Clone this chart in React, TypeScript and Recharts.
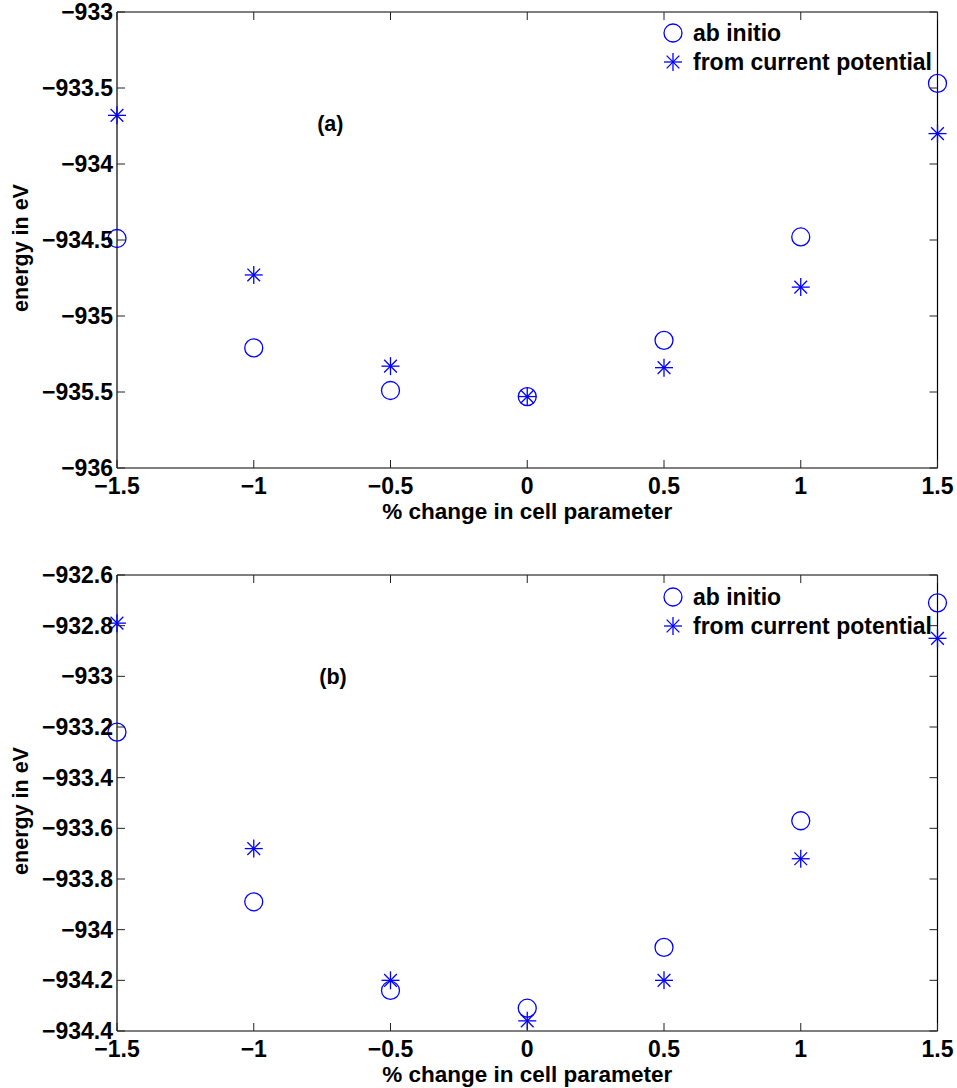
import React from 'react';
import { ScatterChart, Scatter, XAxis, YAxis, ReferenceDot, Legend } from 'recharts';

// ---- data ----
const pct = [-1.5, -1, -0.5, 0, 0.5, 1, 1.5];
const xTicks = [-1.5, -1, -0.5, 0, 0.5, 1, 1.5];

const abInitioA = [-934.49, -935.21, -935.49, -935.53, -935.16, -934.48, -933.47];
const potentialA = [-933.68, -934.73, -935.33, -935.53, -935.34, -934.81, -933.8];
const yTicksA = [-936, -935.5, -935, -934.5, -934, -933.5, -933];

const abInitioB = [-933.22, -933.89, -934.24, -934.31, -934.07, -933.57, -932.71];
const potentialB = [-932.79, -933.68, -934.2, -934.36, -934.2, -933.72, -932.85];
const yTicksB = [-934.4, -934.2, -934, -933.8, -933.6, -933.4, -933.2, -933, -932.8, -932.6];

const seriesNames = ['ab initio', 'from current potential'];
const xTitle = '% change in cell parameter';
const yTitle = 'energy in eV';

// ---- style ----
const BLUE = '#0000ff';
const FONT = '"Liberation Sans", Arial, Helvetica, sans-serif';
const FS = 22.5;
const TICK_FS = 23;
const TICK_LEN = 8;
const X_MARGIN = 10;
const Y_MARGIN = 4;

const fmt = (v: number) => (v < 0 ? '\u2212' + String(Math.abs(v)) : String(v));

const CircleMark = ({ cx, cy }: any) => (
  <circle cx={cx} cy={cy} r={9} fill="none" stroke={BLUE} strokeWidth={1.3} />
);

const StarMark = ({ cx, cy }: any) => {
  const r = 9;
  const d = r * 0.707;
  return (
    <g stroke={BLUE} strokeWidth={1.3}>
      <line x1={cx - r} y1={cy} x2={cx + r} y2={cy} />
      <line x1={cx} y1={cy - r} x2={cx} y2={cy + r} />
      <line x1={cx - d} y1={cy - d} x2={cx + d} y2={cy + d} />
      <line x1={cx - d} y1={cy + d} x2={cx + d} y2={cy - d} />
    </g>
  );
};

const NoMark = () => <g />;

const BottomTick = (p: any) => {
  const { x, y, payload } = p;
  const axisY = y - X_MARGIN;
  return (
    <g>
      <line x1={x} x2={x} y1={axisY} y2={axisY - TICK_LEN} stroke="#222" strokeWidth={1} />
      <text x={x} y={y} dy="0.71em" textAnchor="middle" fontFamily={FONT} fontWeight="bold" fontSize={TICK_FS} fill="#000">
        {fmt(payload.value)}
      </text>
    </g>
  );
};

const LeftTick = (p: any) => {
  const { x, y, payload } = p;
  const axisX = x + Y_MARGIN;
  return (
    <g>
      <line x1={axisX} x2={axisX + TICK_LEN} y1={y} y2={y} stroke="#222" strokeWidth={1} />
      <text x={x} y={y} dy="0.355em" textAnchor="end" fontFamily={FONT} fontWeight="bold" fontSize={TICK_FS} fill="#000">
        {fmt(payload.value)}
      </text>
    </g>
  );
};

const TopTick = (p: any) => {
  const { x, y } = p;
  return <line x1={x} x2={x} y1={y} y2={y + TICK_LEN} stroke="#222" strokeWidth={1} />;
};

const RightTick = (p: any) => {
  const { x, y } = p;
  return <line x1={x} x2={x - TICK_LEN} y1={y} y2={y} stroke="#222" strokeWidth={1} />;
};

const XTitle = (props: any) => {
  const vb = props.viewBox;
  const cx = vb.x + vb.width / 2;
  const cy = vb.y + 43;
  return (
    <text x={cx} y={cy} textAnchor="middle" dominantBaseline="central" fontFamily={FONT} fontWeight="bold" fontSize={FS} fill="#000">
      {xTitle}
    </text>
  );
};

const YTitle = (props: any) => {
  const vb = props.viewBox;
  const cy = vb.y + vb.height / 2 + 8;
  const cx = 21;
  return (
    <text x={cx} y={cy} transform={`rotate(-90 ${cx} ${cy})`} textAnchor="middle" dominantBaseline="central" fontFamily={FONT} fontWeight="bold" fontSize={FS - 1} fill="#000">
      {yTitle}
    </text>
  );
};

const LegendBox = () => (
  <svg width={290} height={56} style={{ display: 'block', overflow: 'visible' }}>
    <CircleMark cx={10} cy={11} />
    <text x={30} y={11} dominantBaseline="central" fontFamily={FONT} fontWeight="bold" fontSize={23} fill="#000">
      {seriesNames[0]}
    </text>
    <StarMark cx={10} cy={40} />
    <text x={30} y={40} dominantBaseline="central" fontFamily={FONT} fontWeight="bold" fontSize={23} fill="#000">
      {seriesNames[1]}
    </text>
  </svg>
);

type PanelProps = {
  abInitio: number[];
  potential: number[];
  yTicks: number[];
  marginTop: number;
  xAxisHeight: number;
  legendTop: number;
  tag: string;
  tagX: number;
  tagY: number;
};

const W = 957;
const H = 544;

const Panel = ({ abInitio, potential, yTicks, marginTop, xAxisHeight, legendTop, tag, tagX, tagY }: PanelProps) => {
  const dataA = pct.map((x, i) => ({ x, y: abInitio[i] }));
  const dataP = pct.map((x, i) => ({ x, y: potential[i] }));
  const yDomain: [number, number] = [yTicks[0], yTicks[yTicks.length - 1]];
  return (
    <ScatterChart width={W} height={H} margin={{ top: marginTop - 1, right: 18.5, bottom: 0, left: 0 }}>
      <XAxis
        xAxisId="b"
        dataKey="x"
        type="number"
        domain={[-1.5, 1.5]}
        ticks={xTicks}
        interval={0}
        height={xAxisHeight}
        tickSize={0}
        tickMargin={X_MARGIN}
        tickLine={false}
        axisLine={{ stroke: '#000', strokeWidth: 1.2 }}
        tick={<BottomTick />}
        label={XTitle}
      />
      <XAxis
        xAxisId="t"
        dataKey="x"
        orientation="top"
        type="number"
        domain={[-1.5, 1.5]}
        ticks={xTicks}
        interval={0}
        height={1}
        tickSize={0}
        tickMargin={0}
        tickLine={false}
        axisLine={{ stroke: '#000', strokeWidth: 1.2 }}
        tick={<TopTick />}
      />
      <YAxis
        yAxisId="l"
        dataKey="y"
        type="number"
        domain={yDomain}
        ticks={yTicks}
        interval={0}
        width={117}
        tickSize={0}
        tickMargin={Y_MARGIN}
        tickLine={false}
        axisLine={{ stroke: '#000', strokeWidth: 1.2 }}
        tick={<LeftTick />}
        label={YTitle}
      />
      <YAxis
        yAxisId="r"
        dataKey="y"
        orientation="right"
        type="number"
        domain={yDomain}
        ticks={yTicks}
        interval={0}
        width={1}
        tickSize={0}
        tickMargin={0}
        tickLine={false}
        axisLine={{ stroke: '#000', strokeWidth: 1.2 }}
        tick={<RightTick />}
      />
      <Scatter
        name="frame"
        data={dataA}
        xAxisId="t"
        yAxisId="r"
        legendType="none"
        isAnimationActive={false}
        shape={NoMark}
      />
      <Scatter
        name={seriesNames[0]}
        data={dataA}
        xAxisId="b"
        yAxisId="l"
        isAnimationActive={false}
        shape={(p: any) => <CircleMark cx={p.cx} cy={p.cy} />}
      />
      <Scatter
        name={seriesNames[1]}
        data={dataP}
        xAxisId="b"
        yAxisId="l"
        isAnimationActive={false}
        shape={(p: any) => <StarMark cx={p.cx} cy={p.cy} />}
      />
      <ReferenceDot
        x={tagX}
        y={tagY}
        xAxisId="b"
        yAxisId="l"
        r={0}
        fill="none"
        stroke="none"
        label={{ value: tag, position: 'center', fontFamily: FONT, fontWeight: 'bold', fontSize: FS - 1, fill: '#000' }}
      />
      <Legend
        layout="horizontal"
        verticalAlign="middle"
        align="center"
        content={() => <LegendBox />}
        wrapperStyle={{ position: 'absolute', left: 663, top: legendTop, width: 290, height: 56 }}
      />
    </ScatterChart>
  );
};

export default function App() {
  return (
    <div style={{ position: 'absolute', left: 0, top: 0, width: W, height: 1088, background: '#fff' }}>
      <div style={{ position: 'absolute', left: 0, top: 0 }}>
        <Panel
          abInitio={abInitioA}
          potential={potentialA}
          yTicks={yTicksA}
          marginTop={12}
          xAxisHeight={76}
          legendTop={22}
          tag="(a)"
          tagX={-0.72}
          tagY={-933.73}
        />
      </div>
      <div style={{ position: 'absolute', left: 0, top: 544 }}>
        <Panel
          abInitio={abInitioB}
          potential={potentialB}
          yTicks={yTicksB}
          marginTop={31}
          xAxisHeight={57}
          legendTop={42}
          tag="(b)"
          tagX={-0.71}
          tagY={-933.0}
        />
      </div>
    </div>
  );
}
